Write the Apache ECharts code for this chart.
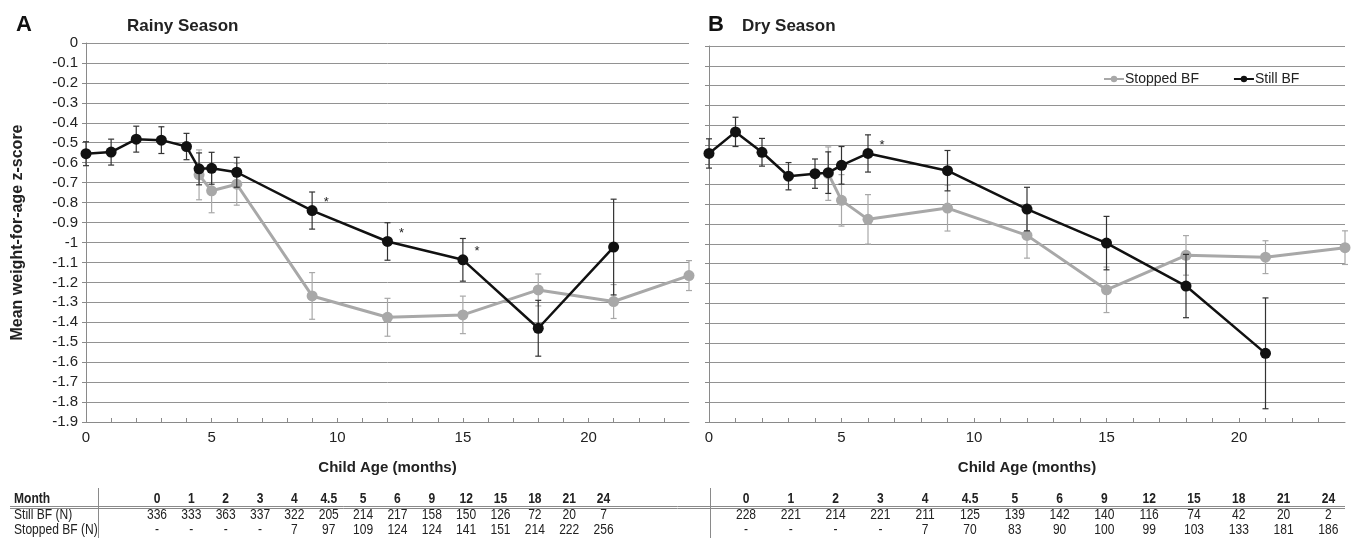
<!DOCTYPE html>
<html>
<head>
<meta charset="utf-8">
<script src="https://cdn.jsdelivr.net/npm/echarts@6/dist/echarts.min.js"></script>
<style>
html,body{margin:0;padding:0;background:#fff;}
#c{width:1355px;height:553px;}
</style>
</head>
<body>
<div id="c"></div>
<script>
// ---- Data ----
const stillMonths = [0, 1, 2, 3, 4, 4.5, 5, 6, 9, 12, 15, 18, 21];
const stopMonths = [4.5, 5, 6, 9, 12, 15, 18, 21, 24];

const rainyStillMean = [-0.555, -0.547, -0.482, -0.487, -0.519, -0.631, -0.628, -0.648, -0.84, -0.995, -1.087, -1.43, -1.023];
const rainyStillErr  = [0.06, 0.065, 0.065, 0.067, 0.066, 0.08, 0.08, 0.075, 0.093, 0.094, 0.107, 0.14, 0.24];
const rainyStopMean  = [-0.661, -0.741, -0.708, -1.268, -1.375, -1.363, -1.238, -1.296, -1.166];
const rainyStopErr   = [0.125, 0.11, 0.105, 0.117, 0.095, 0.094, 0.08, 0.085, 0.075];

const dryStillMean = [-0.543, -0.434, -0.537, -0.658, -0.645, -0.64, -0.603, -0.543, -0.63, -0.824, -0.996, -1.213, -1.553];
const dryStillErr  = [0.074, 0.074, 0.07, 0.069, 0.074, 0.105, 0.095, 0.094, 0.102, 0.11, 0.135, 0.16, 0.28];
const dryStopMean  = [-0.645, -0.78, -0.876, -0.819, -0.957, -1.232, -1.058, -1.067, -1.019];
const dryStopErr   = [0.135, 0.13, 0.125, 0.116, 0.115, 0.115, 0.1, 0.083, 0.085];

const rainyAsterisks = [9, 12, 15];
const dryAsterisks = [6];

const tableMonths = ['0', '1', '2', '3', '4', '4.5', '5', '6', '9', '12', '15', '18', '21', '24'];
const rainyStillN = ['336', '333', '363', '337', '322', '205', '214', '217', '158', '150', '126', '72', '20', '7'];
const rainyStopN  = ['-', '-', '-', '-', '7', '97', '109', '124', '124', '141', '151', '214', '222', '256'];
const dryStillN   = ['228', '221', '214', '221', '211', '125', '139', '142', '140', '116', '74', '42', '20', '2'];
const dryStopN    = ['-', '-', '-', '-', '7', '70', '83', '90', '100', '99', '103', '133', '181', '186'];

const yTicks = { min: -1.9, max: 0, interval: 0.1 };
const xTicks = { min: 0, max: 24, interval: 1, labelEvery: 5 };

// ---- Styles ----
const BLACK = '#111111';
const GRAY = '#a8a8a8';
const GRID = '#929292';
const AXIS = '#8a8a8a';
const FONT = "'Liberation Sans', Arial, sans-serif";
const NARROW = "'Liberation Sans Narrow', 'Liberation Sans', Arial, sans-serif";

function lineData(months, means, asterisks) {
  return months.map((m, i) => {
    const item = { value: [m, means[i]] };
    if (asterisks && asterisks.indexOf(m) >= 0) {
      item.label = { show: true, formatter: '*', position: 'right', offset: [1, -8], color: '#222', fontSize: 13, fontFamily: FONT };
    }
    return item;
  });
}
function errData(months, means, errs) {
  return months.map((m, i) => [m, means[i], errs[i]]);
}
function errSeries(name, months, means, errs, color, gi, z) {
  return {
    type: 'custom', name: name + ' err', xAxisIndex: gi, yAxisIndex: gi, z: z,
    data: errData(months, means, errs),
    encode: { x: 0, y: 1 },
    silent: true,
    renderItem: function (params, api) {
      const x = api.value(0), m = api.value(1), e = api.value(2);
      const top = api.coord([x, m + e]);
      const bot = api.coord([x, m - e]);
      const cw = 3;
      const st = { stroke: color, lineWidth: 1.2 };
      return {
        type: 'group',
        children: [
          { type: 'line', shape: { x1: top[0], y1: top[1], x2: bot[0], y2: bot[1] }, style: st },
          { type: 'line', shape: { x1: top[0] - cw, y1: top[1], x2: top[0] + cw, y2: top[1] }, style: st },
          { type: 'line', shape: { x1: bot[0] - cw, y1: bot[1], x2: bot[0] + cw, y2: bot[1] }, style: st }
        ]
      };
    }
  };
}
function lineSeries(name, months, means, asterisks, color, width, size, gi, z) {
  return {
    type: 'line', name: name, xAxisIndex: gi, yAxisIndex: gi, z: z,
    data: lineData(months, means, asterisks),
    symbol: 'circle', symbolSize: size,
    lineStyle: { color: color, width: width },
    itemStyle: { color: color },
    animation: false
  };
}
function xAxis(gi, nameGap) {
  return {
    type: 'value', gridIndex: gi, min: xTicks.min, max: xTicks.max, interval: xTicks.interval,
    name: 'Child Age (months)', nameLocation: 'middle', nameGap: nameGap,
    nameTextStyle: { fontFamily: FONT, fontWeight: 'bold', fontSize: 15, color: '#222' },
    axisLine: { show: true, onZero: false, lineStyle: { color: AXIS, width: 1 } },
    axisTick: { show: true, inside: true, length: 4, lineStyle: { color: AXIS } },
    axisLabel: {
      fontFamily: FONT, fontSize: 15, color: '#222', margin: 8,
      formatter: v => (v % xTicks.labelEvery === 0 ? String(v) : ''),
      showMaxLabel: false
    },
    splitLine: { show: false }
  };
}
function yAxis(gi, showLabels) {
  return {
    type: 'value', gridIndex: gi, min: yTicks.min, max: yTicks.max, interval: yTicks.interval,
    name: showLabels ? 'Mean weight-for-age z-score' : '',
    nameLocation: 'middle', nameGap: 60, nameRotate: 90,
    nameTextStyle: { fontFamily: FONT, fontWeight: 'bold', fontSize: 16, color: '#222' },
    axisLine: { show: true, lineStyle: { color: AXIS, width: 1 } },
    axisTick: { show: true, length: 4, lineStyle: { color: AXIS } },
    axisLabel: {
      show: showLabels, fontFamily: FONT, fontSize: 15, color: '#222', margin: 8,
      formatter: v => String(parseFloat(Number(v).toFixed(1)))
    },
    splitLine: { show: true, lineStyle: { color: GRID, width: 1 } }
  };
}

// ---- Table graphics ----
function tableGraphics() {
  const g = [];
  const rowY = [499, 515, 530];
  const colsA = { start: 157, step: 34.35 };
  const colsB = { start: 746, step: 44.8 };
  const txt = (x, y, s, bold, align) => ({
    type: 'text', x: x, y: y, scaleX: 0.86, originX: 0, originY: 0,
    style: { text: s, fontFamily: NARROW, fontSize: 14, fontWeight: bold ? 'bold' : 'normal',
      fill: '#222', align: align || 'center', verticalAlign: 'middle' }
  });
  g.push(txt(14, rowY[0], 'Month', true, 'left'));
  g.push(txt(14, rowY[1], 'Still BF (N)', false, 'left'));
  g.push(txt(14, rowY[2], 'Stopped BF (N)', false, 'left'));
  tableMonths.forEach((m, i) => {
    g.push(txt(colsA.start + i * colsA.step, rowY[0], m, true));
    g.push(txt(colsA.start + i * colsA.step, rowY[1], rainyStillN[i], false));
    g.push(txt(colsA.start + i * colsA.step, rowY[2], rainyStopN[i], false));
    g.push(txt(colsB.start + i * colsB.step, rowY[0], m, true));
    g.push(txt(colsB.start + i * colsB.step, rowY[1], dryStillN[i], false));
    g.push(txt(colsB.start + i * colsB.step, rowY[2], dryStopN[i], false));
  });
  const ln = (x1, y1, x2, y2, w) => ({ type: 'line', shape: { x1, y1, x2, y2 }, style: { stroke: '#8a8a8a', lineWidth: w || 1 } });
  g.push(ln(10, 506.5, 1345, 506.5, 1));
  g.push(ln(10, 508.5, 1345, 508.5, 1));
  g.push(ln(98.5, 488, 98.5, 538));
  g.push(ln(710.5, 488, 710.5, 538));
  return g;
}

const chart = echarts.init(document.getElementById('c'), null, { renderer: 'canvas' });
chart.setOption({
  animation: false,
  backgroundColor: '#fff',
  title: [
    { text: 'A', left: 11, top: 9, textStyle: { fontFamily: FONT, fontWeight: 'bold', fontSize: 22, color: '#111' } },
    { text: 'Rainy Season', left: 122, top: 13, textStyle: { fontFamily: FONT, fontWeight: 'bold', fontSize: 17, color: '#222' } },
    { text: 'B', left: 703, top: 9, textStyle: { fontFamily: FONT, fontWeight: 'bold', fontSize: 22, color: '#111' } },
    { text: 'Dry Season', left: 737, top: 13, textStyle: { fontFamily: FONT, fontWeight: 'bold', fontSize: 17, color: '#222' } }
  ],
  legend: {
    data: ['Stopped BF', 'Still BF'],
    left: 1098, top: 67, itemWidth: 20, itemHeight: 8, itemGap: 34,
    textStyle: { fontFamily: NARROW, fontSize: 14, color: '#222', padding: [0, 0, 0, -4] },
    selectedMode: false
  },
  grid: [
    { left: 86, top: 43, width: 603, height: 379 },
    { left: 709, top: 46, width: 636, height: 376 }
  ],
  xAxis: [xAxis(0, 38), xAxis(1, 38)],
  yAxis: [yAxis(0, true), yAxis(1, false)],
  graphic: tableGraphics(),
  series: [
    errSeries('Stopped BF', stopMonths, rainyStopMean, rainyStopErr, GRAY, 0, 2),
    lineSeries('Stopped BF', stopMonths, rainyStopMean, null, GRAY, 3, 11, 0, 3),
    errSeries('Still BF', stillMonths, rainyStillMean, rainyStillErr, '#333', 0, 4),
    lineSeries('Still BF', stillMonths, rainyStillMean, rainyAsterisks, BLACK, 2.5, 11, 0, 5),
    errSeries('Stopped BF', stopMonths, dryStopMean, dryStopErr, GRAY, 1, 2),
    lineSeries('Stopped BF', stopMonths, dryStopMean, null, GRAY, 3, 11, 1, 3),
    errSeries('Still BF', stillMonths, dryStillMean, dryStillErr, '#333', 1, 4),
    lineSeries('Still BF', stillMonths, dryStillMean, dryAsterisks, BLACK, 2.5, 11, 1, 5)
  ]
});
</script>
</body>
</html>
